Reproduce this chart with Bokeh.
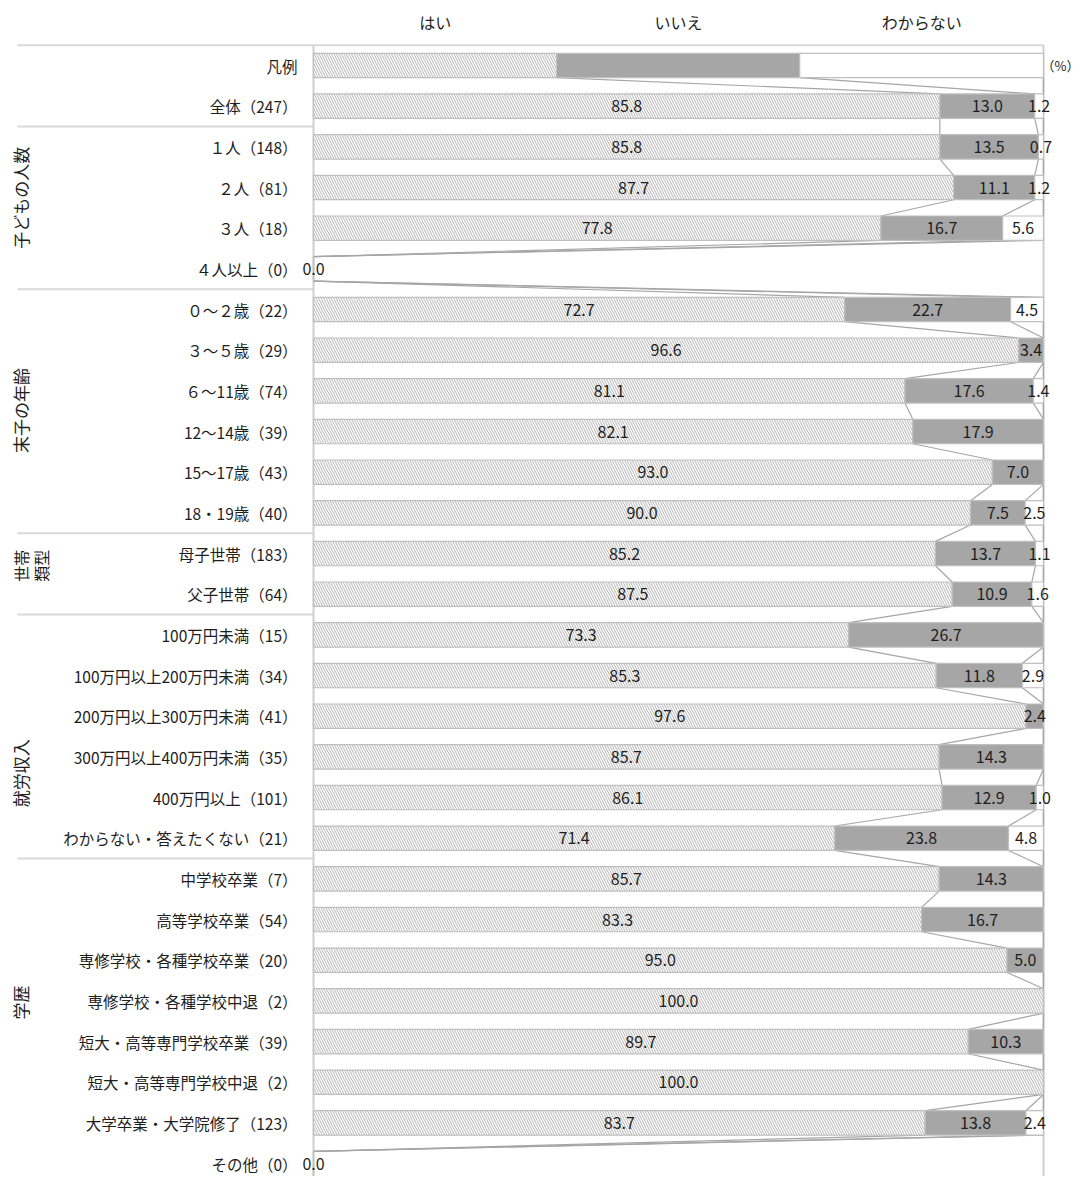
from bokeh.plotting import figure
from bokeh.models import Range1d
from bokeh.core.properties import value
from bokeh.embed import file_html
from bokeh.resources import INLINE

# ---------------- data ----------------
series = ["はい", "いいえ", "わからない"]
categories = [
    "凡例", "全体（247）", "１人（148）", "２人（81）", "３人（18）", "４人以上（0）",
    "０～２歳（22）", "３～５歳（29）", "６～11歳（74）", "12～14歳（39）", "15～17歳（43）", "18・19歳（40）",
    "母子世帯（183）", "父子世帯（64）",
    "100万円未満（15）", "100万円以上200万円未満（34）", "200万円以上300万円未満（41）",
    "300万円以上400万円未満（35）", "400万円以上（101）", "わからない・答えたくない（21）",
    "中学校卒業（7）", "高等学校卒業（54）", "専修学校・各種学校卒業（20）", "専修学校・各種学校中退（2）",
    "短大・高等専門学校卒業（39）", "短大・高等専門学校中退（2）", "大学卒業・大学院修了（123）", "その他（0）",
]
hai = [33.3, 85.8, 85.8, 87.7, 77.8, 0.0, 72.7, 96.6, 81.1, 82.1, 93.0, 90.0, 85.2, 87.5,
       73.3, 85.3, 97.6, 85.7, 86.1, 71.4, 85.7, 83.3, 95.0, 100.0, 89.7, 100.0, 83.7, 0.0]
iie = [33.3, 13.0, 13.5, 11.1, 16.7, 0.0, 22.7, 3.4, 17.6, 17.9, 7.0, 7.5, 13.7, 10.9,
       26.7, 11.8, 2.4, 14.3, 12.9, 23.8, 14.3, 16.7, 5.0, 0.0, 10.3, 0.0, 13.8, 0.0]
wakaranai = [33.4, 1.2, 0.7, 1.2, 5.6, 0.0, 4.5, 0.0, 1.4, 0.0, 0.0, 2.5, 1.1, 1.6,
             0.0, 2.9, 0.0, 0.0, 1.0, 4.8, 0.0, 0.0, 0.0, 0.0, 0.0, 0.0, 2.4, 0.0]
group_names = [["子どもの人数"], ["末子の年齢"], ["世帯", "類型"], ["就労収入"], ["学歴"]]
group_first_rows = [2, 6, 12, 14, 20]

# ---------------- layout ----------------
W, H = 1084, 1176
PX_PER_UNIT = 7.3          # 730 px for 100 %
X0_SCREEN = 313            # x=0 in figure px
ROW0 = 65                  # first row centre in figure px
ROW_PX = 40.67
x_start = -X0_SCREEN / PX_PER_UNIT
x_end = (W - X0_SCREEN) / PX_PER_UNIT
y_top = -ROW0 / ROW_PX
y_bottom = (H - ROW0) / ROW_PX
BAR_H = 0.6
label_x = -16 / PX_PER_UNIT
left_edge_x = (17 - 313) / PX_PER_UNIT
group_x = (20 - 313) / PX_PER_UNIT
group_x2 = (40 - 313) / PX_PER_UNIT
pct_x = (1079 - 313) / PX_PER_UNIT
group_y = [3.25, 8.48, 12.3, 17.4, 23.04]

FONT = value("Noto Sans CJK JP")
LINE_GRAY = "#bfbfbf"
SEP_GRAY = "#d9d9d9"
TXT = "#1e1e1e"

p = figure(width=W, height=H, x_range=Range1d(x_start, x_end), y_range=Range1d(y_bottom, y_top),
           output_backend="svg", toolbar_location=None, x_axis_location=None, y_axis_location=None,
           min_border=0, outline_line_color=None, background_fill_color="white")
p.grid.visible = False

n = len(categories)
ys = list(range(n))
# normalise to 100 %
c1, c2, c3 = [], [], []
for a, b, c in zip(hai, iie, wakaranai):
    t = a + b + c
    if t == 0:
        c1.append(0.0); c2.append(0.0); c3.append(0.0)
    else:
        c1.append(a / t * 100); c2.append((a + b) / t * 100); c3.append(100.0)

# separators and frame lines
p.segment(x0=[left_edge_x], y0=[-0.5], x1=[100], y1=[-0.5], line_color=SEP_GRAY, line_width=2)
sep_rows = [r - 0.5 for r in group_first_rows]
p.segment(x0=[left_edge_x] * len(sep_rows), y0=sep_rows, x1=[0] * len(sep_rows), y1=sep_rows,
          line_color=SEP_GRAY, line_width=2)
p.segment(x0=[0, 100], y0=[-0.5, -0.5], x1=[0, 100], y1=[y_bottom, y_bottom],
          line_color="#cfcfcf", line_width=2)

# connector (series) lines
sx0, sy0, sx1, sy1 = [], [], [], []
for cum in (c1, c2, c3):
    for i in range(n - 1):
        sx0.append(cum[i]); sy0.append(i + BAR_H / 2)
        sx1.append(cum[i + 1]); sy1.append(i + 1 - BAR_H / 2)
p.segment(x0=sx0, y0=sy0, x1=sx1, y1=sy1, line_color="#a6a6a6", line_width=1.2)

# bars
p.hbar(y=ys, left=[0] * n, right=c1, height=BAR_H, fill_color="white",
       hatch_pattern="left_diagonal_line", hatch_color="#b4b4b4", hatch_scale=5, hatch_weight=1,
       line_color=LINE_GRAY, line_width=1.2)
p.hbar(y=ys, left=c1, right=c2, height=BAR_H, fill_color="#a6a6a6", line_color=LINE_GRAY, line_width=1.2)
p.hbar(y=ys, left=c2, right=c3, height=BAR_H, fill_color="white", line_color=LINE_GRAY, line_width=1.2)

# value labels
lx, ly, lt = [], [], []
for i in range(1, n):
    vals = [hai[i], iie[i], wakaranai[i]]
    lefts = [0, c1[i], c2[i]]
    rights = [c1[i], c2[i], c3[i]]
    for k in range(3):
        if vals[k] > 0 or (k == 0 and sum(vals) == 0):
            lx.append((lefts[k] + rights[k]) / 2)
            ly.append(i)
            lt.append(f"{vals[k]:.1f}")
p.text(x=lx, y=ly, text=lt, text_align="center", text_baseline="middle",
       text_font=FONT, text_font_size="16px", text_color=TXT)

# category labels
p.text(x=[label_x] * n, y=ys, text=categories, text_align="right", text_baseline="middle",
       text_font=FONT, text_font_size="15.5px", text_color=TXT)

# series headers
p.text(x=[100 / 6, 50, 500 / 6], y=[-1.06] * 3, text=series, text_align="center", text_baseline="middle",
       text_font=FONT, text_font_size="16px", text_color=TXT)
p.text(x=[pct_x], y=[0], text=["（%）"], text_align="right", text_baseline="middle",
       text_font=FONT, text_font_size="13px", text_color=TXT)

# group labels (vertical)
for names, gy in zip(group_names, group_y):
    if len(names) == 1:
        p.text(x=[group_x], y=[gy], text=names, angle=1.5708, text_align="center", text_baseline="middle",
               text_font=FONT, text_font_size="17px", text_color=TXT)
    else:
        p.text(x=[group_x, group_x2], y=[gy, gy], text=names, angle=1.5708, text_align="center",
               text_baseline="middle", text_font=FONT, text_font_size="16px", text_color=TXT)

open("out.html", "w").write(file_html(p, INLINE))
